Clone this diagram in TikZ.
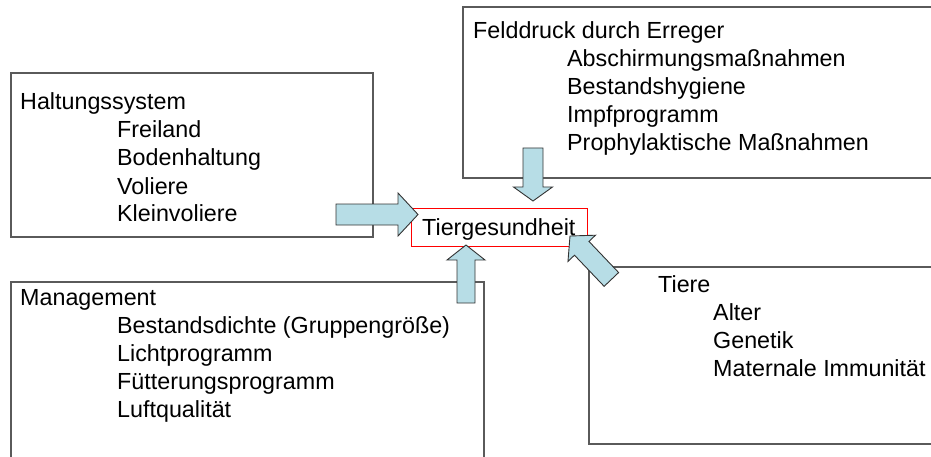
\documentclass[tikz,border=0pt]{standalone}
\usepackage{fontspec}
\setmainfont{Liberation Sans}
\definecolor{arrowfill}{RGB}{183,221,230}
\definecolor{boxline}{RGB}{90,90,90}
\newcommand\blkarrow[5]{%
  \begin{scope}[shift={(#1,#2)},rotate=#3]
    \draw[arrowstyle] (0,0) -- (-#5,\hw) -- (-#5,\bw) -- (-#4,\bw) -- (-#4,-\bw) -- (-#5,-\bw) -- (-#5,-\hw) -- cycle;
  \end{scope}}
\begin{document}
\begin{tikzpicture}[x=1pt,y=-1pt,
  frame/.style={draw=boxline,line width=1.3pt},
  arrowstyle/.style={draw=black!80,line width=0.9pt,fill=arrowfill,line join=miter},
  txt/.style={inner sep=0pt,anchor=base west,font=\fontsize{23.3}{28}\selectfont},
  center/.style={draw=red,line width=0.9pt,minimum width=176pt,minimum height=38pt,inner sep=0pt,anchor=north west}]
\useasboundingbox (0,0) rectangle (931,457);
\def\bw{10.5}\def\hw{21.5}
% boxes
\draw[frame] (11,73) rectangle (373,237);
\draw[frame] (935,7) -- (463,7) -- (463,178) -- (935,178);
\draw[frame] (11,460) -- (11,282) -- (484,282) -- (484,460);
\draw[frame] (935,267) -- (589,267) -- (589,444) -- (935,444);
\node[center] (tg) at (411,208) {};
\node[txt] (tgt) at (422,235) {Tiergesundheit};
% Haltungssystem
\node[txt] (h0) at (20,110) {Haltungssystem};
\node[txt] (h1) at (117,138) {Freiland};
\node[txt] (h2) at (117,166) {Bodenhaltung};
\node[txt] (h3) at (117,194) {Voliere};
\node[txt] (h4) at (117,222) {Kleinvoliere};
% Felddruck
\node[txt] (f0) at (473,39) {Felddruck durch Erreger};
\node[txt] (f1) at (567,67) {Abschirmungsmaßnahmen};
\node[txt] (f2) at (567,95) {Bestandshygiene};
\node[txt] (f3) at (567,123) {Impfprogramm};
\node[txt] (f4) at (567,151) {Prophylaktische Maßnahmen};
% Management
\node[txt] (m0) at (20,305) {Management};
\node[txt] (m1) at (117,333) {Bestandsdichte (Gruppengröße)};
\node[txt] (m2) at (117,361) {Lichtprogramm};
\node[txt] (m3) at (117,389) {Fütterungsprogramm};
\node[txt] (m4) at (117,417) {Luftqualität};
% Tiere
\node[txt] (t0) at (658,292) {Tiere};
\node[txt] (t1) at (713,320) {Alter};
\node[txt] (t2) at (713,348) {Genetik};
\node[txt] (t3) at (713,376) {Maternale Immunität};
% block arrows
\blkarrow{418}{214.5}{0}{82}{20}
\def\bw{10}\def\hw{19.5}
\blkarrow{533}{201}{-90}{53}{14}
\def\bw{9}\def\hw{19}
\blkarrow{466}{245}{90}{58}{15}
\def\bw{10}\def\hw{19}
\blkarrow{570}{236}{133.6}{60}{17}
\end{tikzpicture}
\end{document}
